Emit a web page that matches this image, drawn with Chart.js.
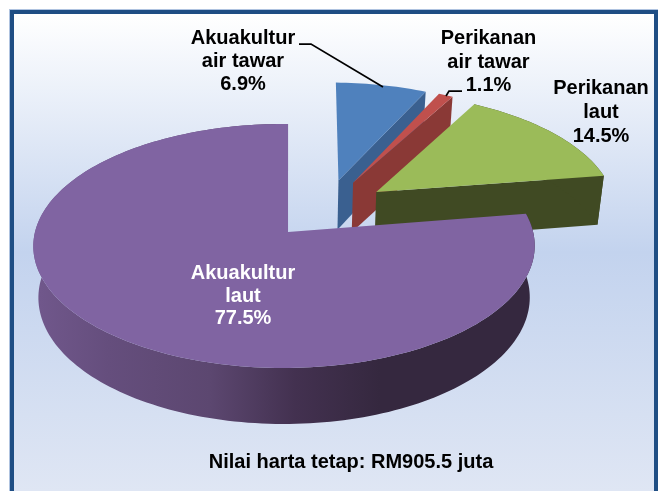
<!DOCTYPE html>
<html>
<head>
<meta charset="utf-8">
<style>html,body{margin:0;padding:0;background:#fff}canvas{display:block}</style>
<script src="https://cdn.jsdelivr.net/npm/chart.js@4"></script>
</head>
<body>
<canvas id="c" width="658" height="491"></canvas>
<script>
const categories = ["Akuakultur air tawar", "Perikanan air tawar", "Perikanan laut", "Akuakultur laut"];
const values = [6.9, 1.1, 14.5, 77.5];
const labelLines = [["Akuakultur", "air tawar", "6.9%"], ["Perikanan", "air tawar", "1.1%"], ["Perikanan", "laut", "14.5%"], ["Akuakultur", "laut", "77.5%"]];
const footerText = "Nilai harta tetap: RM905.5 juta";
const faceColors = ["#4F81BD", "#C0504D", "#9BBB59", "#8064A2"];
const wallColors = ["#3A6090", "#8A3936", "#404A23", null];

const OX = 288, OY = 232, A = 120.4, B = 249, K = 0.1148, M = 0.016;
const EXPLODE = 0.26, C0U = 0.169, C0S = -0.198;
function project(u, s) { const w = 1 - K * s + M * u; return [OX + B * u / w, OY + A * s / w]; }
function lower(p) { return [OX + (p[0] - OX) * 0.98, p[1] + 49 + 0.036 * (p[1] - 174)]; }
function sliceGeom(arc, nudge) {
  const a0 = arc.startAngle, a1 = arc.endAngle, mid = (a0 + a1) / 2;
  const cu = C0U + EXPLODE * Math.cos(mid), cs = C0S + EXPLODE * Math.sin(mid);
  const rim = [], n = Math.max(4, Math.ceil((a1 - a0) * 40));
  for (let i = 0; i <= n; i++) {
    const a = a0 + (a1 - a0) * i / n;
    rim.push(project(cu + Math.cos(a), cs + Math.sin(a)));
  }
  return { vertex: project(cu - nudge, cs), rim, a1, span: a1 - a0 };
}
function poly(ctx, pts, fill) {
  ctx.beginPath();
  pts.forEach((p, i) => i ? ctx.lineTo(p[0], p[1]) : ctx.moveTo(p[0], p[1]));
  ctx.closePath();
  ctx.fillStyle = fill;
  ctx.fill();
}
const pie3d = {
  id: "pie3d",
  beforeDraw(chart) {
    const ctx = chart.ctx;
    ctx.save();
    ctx.fillStyle = "#fff";
    ctx.fillRect(0, 0, 658, 491);
    ctx.fillStyle = "#AFC3E0";
    ctx.fillRect(9, 9, 649, 482);
    ctx.fillStyle = "#1F4E84";
    ctx.fillRect(10, 10, 648, 481);
    const g = ctx.createLinearGradient(0, 14, 0, 491);
    g.addColorStop(0, "#FFFFFF");
    g.addColorStop(0.5, "#C3D3EE");
    g.addColorStop(1, "#DFE6F4");
    ctx.fillStyle = g;
    ctx.fillRect(14, 14, 640, 477);
    ctx.restore();
  },
  beforeDatasetsDraw(chart) {
    const ctx = chart.ctx, arcs = chart.getDatasetMeta(0).data;
    ctx.save();
    arcs.forEach((arc, i) => {
      const { vertex, rim, a1, span } = sliceGeom(arc, i < 3 ? 0.011 : 0);
      let wall = wallColors[i];
      if (!wall) {
        wall = ctx.createLinearGradient(40, 0, 380, 0);
        wall.addColorStop(0, "#70578B");
        wall.addColorStop(0.2, "#654E7D");
        wall.addColorStop(0.5, "#5C4770");
        wall.addColorStop(0.75, "#433150");
        wall.addColorStop(1, "#35283F");
      } else {
        const end = rim[rim.length - 1];
        poly(ctx, [vertex, end, lower(end), lower(vertex)], wall);
      }
      if (span > Math.PI || Math.sin(a1) > -0.5) poly(ctx, rim.concat(rim.slice().reverse().map(lower)), wall);
      poly(ctx, [vertex].concat(rim), faceColors[i]);
    });
    ctx.restore();
    return false;
  },
  afterDraw(chart) {
    const ctx = chart.ctx;
    ctx.save();
    ctx.strokeStyle = "#000";
    ctx.lineWidth = 1.75;
    ctx.beginPath();
    ctx.moveTo(299, 44); ctx.lineTo(311, 44); ctx.lineTo(383, 87);
    ctx.moveTo(462, 91); ctx.lineTo(449, 91); ctx.lineTo(446, 96);
    ctx.stroke();
    ctx.textAlign = "center";
    ctx.textBaseline = "middle";
    ctx.font = "bold 20px 'Liberation Sans', Arial, sans-serif";
    const spots = [[243, 38.5, 23], [488.5, 38.5, 23.5], [601, 88, 24], [243, 273.5, 22.5]];
    labelLines.forEach((lines, i) => {
      ctx.fillStyle = i === 3 ? "#FFFFFF" : "#000000";
      lines.forEach((t, j) => ctx.fillText(t, spots[i][0], spots[i][1] + j * spots[i][2]));
    });
    ctx.fillStyle = "#000";
    ctx.fillText(footerText, 351, 462);
    ctx.restore();
  }
};
new Chart(document.getElementById("c"), {
  type: "pie",
  data: { labels: categories, datasets: [{ data: values, backgroundColor: faceColors, borderWidth: 0 }] },
  options: {
    responsive: false, animation: false, events: [],
    rotation: 0,
    plugins: { legend: { display: false }, tooltip: { enabled: false }, title: { display: false } }
  },
  plugins: [pie3d]
});
</script>
</body>
</html>
